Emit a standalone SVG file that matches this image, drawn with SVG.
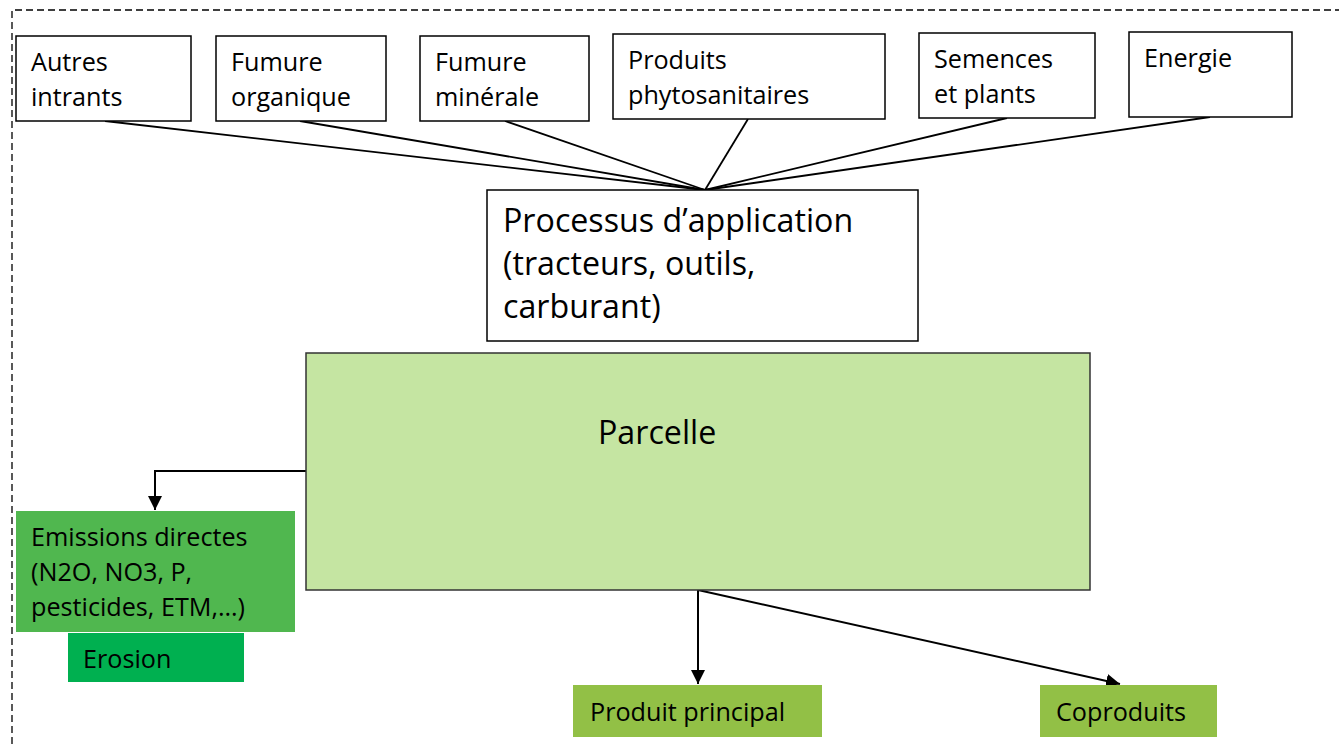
<svg xmlns="http://www.w3.org/2000/svg" width="1339" height="744" viewBox="0 0 1339 744">
<style>
.box{fill:#fff;stroke:#000;stroke-width:1.5}
.t{font-family:"Open Sans","Noto Sans",sans-serif;font-size:25.2px;fill:#000}
.tl{font-family:"Open Sans","Noto Sans",sans-serif;font-size:32.2px;fill:#000}
.ln{stroke:#000;stroke-width:1.8;fill:none}
.ar{stroke:#000;stroke-width:2;fill:none;marker-end:url(#ah)}
</style>
<defs>
<marker id="ah" markerWidth="16" markerHeight="16" refX="14" refY="7" orient="auto" markerUnits="userSpaceOnUse">
<path d="M0,0 L14,7 L0,14 z" fill="#000"/>
</marker>
</defs>
<path d="M12,744 V10 H1339" fill="none" stroke="#000" stroke-width="1.3" stroke-dasharray="7,4"/>
<g id="connectors">
<line class="ln" x1="105" y1="121" x2="705" y2="190"/>
<line class="ln" x1="300" y1="121" x2="705" y2="190"/>
<line class="ln" x1="505" y1="121" x2="705" y2="190"/>
<line class="ln" x1="748" y1="119" x2="705" y2="190"/>
<line class="ln" x1="1007" y1="118" x2="705" y2="190"/>
<line class="ln" x1="1210" y1="117" x2="705" y2="190"/>
<path class="ar" d="M306,471 H155 V510"/>
<line class="ar" x1="698" y1="590" x2="698" y2="684"/>
<line class="ar" x1="698" y1="590" x2="1120" y2="684"/>
</g>
<g id="autres"><rect class="box" x="16" y="36" width="175" height="85"/><text class="t" x="31" y="71">Autres</text><text class="t" x="31" y="106">intrants</text></g>
<g id="fumure-org"><rect class="box" x="216" y="36" width="170" height="85"/><text class="t" x="231" y="71">Fumure</text><text class="t" x="231" y="106">organique</text></g>
<g id="fumure-min"><rect class="box" x="420" y="36" width="169" height="85"/><text class="t" x="435" y="71">Fumure</text><text class="t" x="435" y="106">minérale</text></g>
<g id="phyto"><rect class="box" x="613" y="34" width="272" height="85"/><text class="t" x="628" y="69">Produits</text><text class="t" x="628" y="104">phytosanitaires</text></g>
<g id="semences"><rect class="box" x="919" y="33" width="176" height="85"/><text class="t" x="934" y="68">Semences</text><text class="t" x="934" y="103">et plants</text></g>
<g id="energie"><rect class="box" x="1129" y="32" width="163" height="85"/><text class="t" x="1144" y="67">Energie</text></g>
<g id="processus"><rect class="box" x="487" y="190" width="431" height="151"/><text class="tl" x="503" y="232">Processus d’application</text><text class="tl" x="503" y="275">(tracteurs, outils,</text><text class="tl" x="503" y="318">carburant)</text></g>
<g id="parcelle"><rect x="306" y="353" width="784" height="237" fill="#C5E5A2" stroke="#333" stroke-width="1.5"/><text class="tl" x="598" y="444">Parcelle</text></g>
<g id="emissions"><rect x="16" y="511" width="279" height="121" fill="#50B74F"/><text class="t" x="31" y="546">Emissions directes</text><text class="t" x="31" y="581">(N2O, NO3, P,</text><text class="t" x="31" y="616">pesticides, ETM,…)</text></g>
<g id="erosion"><rect x="68" y="633" width="176" height="49" fill="#00B050"/><text class="t" x="83" y="668">Erosion</text></g>
<g id="produit"><rect x="573" y="685" width="249" height="52" fill="#92C046"/><text class="t" x="590" y="721">Produit principal</text></g>
<g id="coproduits"><rect x="1040" y="685" width="177" height="52" fill="#92C046"/><text class="t" x="1056" y="721">Coproduits</text></g>
</svg>
